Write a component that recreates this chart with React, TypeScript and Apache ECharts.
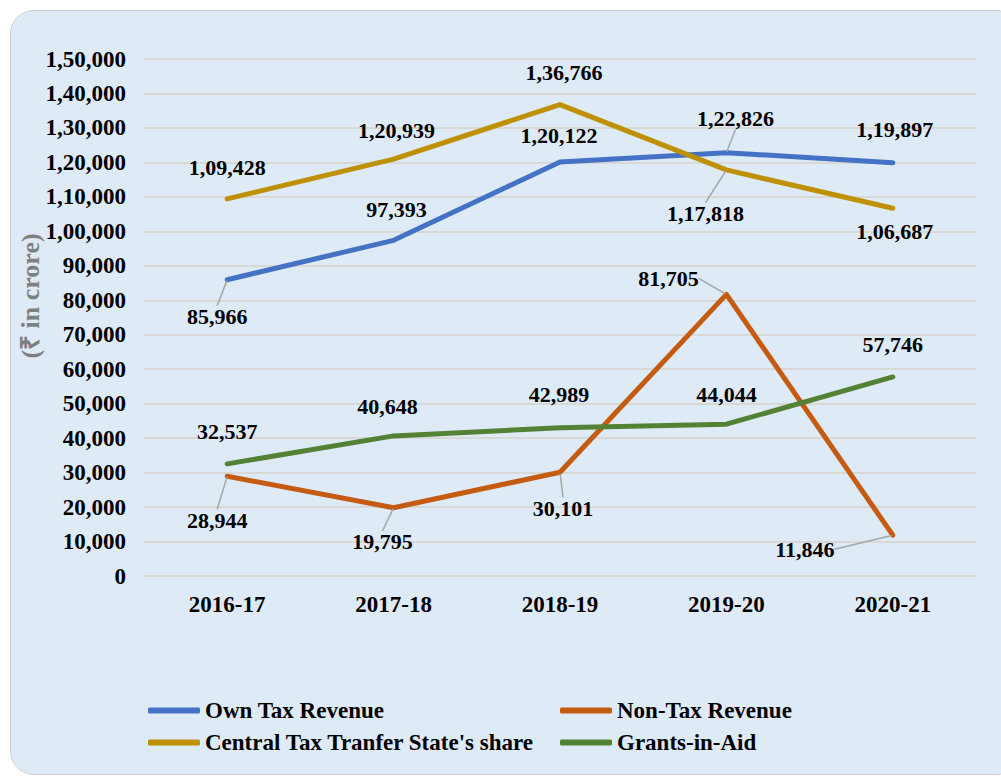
import React, { useEffect, useRef } from "react";
import * as echarts from "echarts";

const categories = ["2016-17", "2017-18", "2018-19", "2019-20", "2020-21"];
const ownTax = [85966, 97393, 120122, 122826, 119897];
const nonTax = [28944, 19795, 30101, 81705, 11846];
const centralTax = [109428, 120939, 136766, 117818, 106687];
const grants = [32537, 40648, 42989, 44044, 57746];

const seriesNames = [
  "Own Tax Revenue",
  "Non-Tax Revenue",
  "Central Tax Tranfer State's share",
  "Grants-in-Aid",
];
const colors = ["#4472c4", "#c55a11", "#bf9000", "#548235"];

// label placement (pixel offsets from the point) and leader-line flags
const labelOffsets: number[][][] = [
  [[-10, 37], [3, -31], [-1, -26], [9, -34], [2, -33]],
  [[-10, 44], [-11, 34], [3, 36], [-58, -16], [-88, 14]],
  [[0, -31], [3, -29], [4, -32], [-21, 44], [2, 23]],
  [[0, -32], [-6, -29], [-1, -33], [0, -30], [0, -32]],
];
const leader: boolean[][] = [
  [true, false, false, true, false],
  [true, true, true, true, true],
  [false, false, false, true, false],
  [false, false, false, false, false],
];

const FONT = "'Liberation Serif', 'Times New Roman', serif";

function inr(n: number): string {
  const s = Math.round(n).toString();
  if (s.length <= 3) return s;
  const last3 = s.slice(-3);
  const rest = s.slice(0, -3).replace(/\B(?=(\d{2})+(?!\d))/g, ",");
  return rest + "," + last3;
}

export default function App() {
  const ref = useRef<HTMLDivElement>(null);
  useEffect(() => {
    if (!ref.current) return;
    const chart = echarts.init(ref.current, null, { renderer: "svg" });
    const all = [ownTax, nonTax, centralTax, grants];
    const series = all.map((vals, si) => ({
      name: seriesNames[si],
      type: "line",
      data: vals.map((v, i) => ({
        value: v,
        label: { offset: labelOffsets[si][i] },
        labelLine: { show: leader[si][i] },
      })),
      symbol: "circle",
      symbolSize: 2,
      showSymbol: true,
      lineStyle: { color: colors[si], width: 5, cap: "round", join: "round" },
      itemStyle: { color: colors[si] },
      label: {
        show: true,
        position: "inside",
        formatter: (p: any) => inr(p.value),
        fontFamily: FONT,
        fontWeight: "bold",
        fontSize: 22,
        color: "#000",
        align: "center",
        verticalAlign: "middle",
      },
      labelLine: {
        show: false,
        lineStyle: { color: "#a6a6a6", width: 1.5 },
      },
      emphasis: { disabled: true },
      z: 3 + si,
    }));

    const legendCommon = {
      orient: "vertical",
      top: 694,
      itemWidth: 52,
      itemHeight: 6,
      itemGap: 9,
      icon: "roundRect",
      textStyle: { fontFamily: FONT, fontWeight: "bold", fontSize: 23, color: "#000" },
    };

    chart.setOption({
      animation: false,
      backgroundColor: "transparent",
      color: colors,
      grid: { left: 144, right: 25, top: 59, bottom: 206 },
      xAxis: {
        type: "category",
        data: categories,
        boundaryGap: true,
        axisLine: { show: false },
        axisTick: { show: false },
        axisLabel: {
          margin: 17,
          fontFamily: FONT,
          fontWeight: "bold",
          fontSize: 23,
          color: "#000",
        },
      },
      yAxis: {
        type: "value",
        min: 0,
        max: 150000,
        interval: 10000,
        axisLine: { show: false },
        axisTick: { show: false },
        splitLine: { lineStyle: { color: "#d6d2cc", width: 1.5 } },
        axisLabel: {
          margin: 18,
          formatter: (v: number) => inr(v),
          fontFamily: FONT,
          fontWeight: "bold",
          fontSize: 23,
          color: "#000",
        },
      },
      legend: [
        { ...legendCommon, data: [seriesNames[0], seriesNames[2]], left: 143 },
        { ...legendCommon, data: [seriesNames[1], seriesNames[3]], left: 555 },
      ],
      graphic: [
        {
          type: "text",
          x: 30,
          y: 296,
          rotation: Math.PI / 2,
          style: {
            text: "(₹ in crore)",
            fill: "#7f7f7f",
            font: `bold 26px ${FONT}`,
            align: "center",
            verticalAlign: "middle",
            textAlign: "center",
            textVerticalAlign: "middle",
          },
        },
      ],
      series,
    });
    return () => chart.dispose();
  }, []);

  return (
    <div style={{ position: "absolute", left: 0, top: 0, width: 1001, height: 782, background: "#fff", overflow: "hidden" }}>
      <div
        style={{
          position: "absolute",
          left: 10,
          top: 10,
          width: 1010,
          height: 765,
          borderRadius: 24,
          background: "#deeaf6",
          border: "1px solid #cfcfcf",
          boxSizing: "border-box",
        }}
      />
      <div ref={ref} style={{ position: "absolute", left: 0, top: 0, width: 1001, height: 782 }} />
    </div>
  );
}
